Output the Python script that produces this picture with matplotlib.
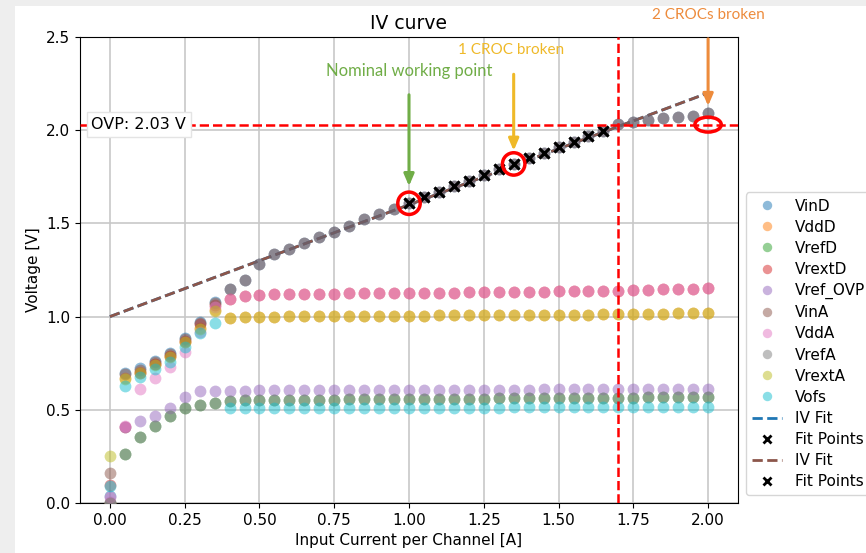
import matplotlib
import matplotlib.pyplot as plt
from matplotlib.patches import Ellipse, Rectangle

matplotlib.use("Agg")

# input current per channel [A]
current = [0.00, 0.05, 0.10, 0.15, 0.20, 0.25, 0.30, 0.35, 0.40, 0.45,
           0.50, 0.55, 0.60, 0.65, 0.70, 0.75, 0.80, 0.85, 0.90, 0.95,
           1.00, 1.05, 1.10, 1.15, 1.20, 1.25, 1.30, 1.35, 1.40, 1.45,
           1.50, 1.55, 1.60, 1.65, 1.70, 1.75, 1.80, 1.85, 1.90, 1.95,
           2.00]

# low current part (0.00 - 0.35 A)
vind_low = [0.040, 0.696, 0.722, 0.764, 0.806, 0.883, 0.973, 1.080]
vddd_low = [0.000, 0.669, 0.704, 0.746, 0.789, 0.866, 0.937, 1.035]
vrefd_low = [0.000, 0.263, 0.352, 0.413, 0.468, 0.508, 0.526, 0.538]
vrextd_low = [0.097, 0.410, 0.700, 0.745, 0.790, 0.870, 0.960, 1.062]
vref_ovp_low = [0.007, 0.410, 0.440, 0.467, 0.508, 0.567, 0.603, 0.603]
vina_low = [0.160, 0.690, 0.716, 0.758, 0.800, 0.878, 0.968, 1.075]
vdda_low = [0.030, 0.415, 0.610, 0.669, 0.728, 0.812, 0.920, 1.050]
vrefa_low = [0.000, 0.263, 0.352, 0.413, 0.468, 0.508, 0.526, 0.538]
vrexta_low = [0.252, 0.664, 0.700, 0.742, 0.785, 0.862, 0.934, 1.030]
vofs_low = [0.090, 0.628, 0.674, 0.717, 0.758, 0.839, 0.910, 0.967]

# high current part (0.40 - 2.00 A)
vin_high = [1.146, 1.196, 1.282, 1.336, 1.361, 1.393, 1.429, 1.456, 1.486, 1.522,
            1.549, 1.575, 1.608, 1.640, 1.670, 1.700, 1.729, 1.760, 1.790, 1.819,
            1.849, 1.879, 1.908, 1.938, 1.969, 1.997, 2.033, 2.046, 2.055, 2.064,
            2.069, 2.076, 2.090]
vdd_high = [0.990, 0.998, 1.000, 1.000, 1.001, 1.001, 1.002, 1.002, 1.003, 1.003,
            1.004, 1.004, 1.005, 1.005, 1.006, 1.006, 1.007, 1.007, 1.008, 1.008,
            1.009, 1.009, 1.010, 1.010, 1.011, 1.012, 1.013, 1.014, 1.015, 1.016,
            1.017, 1.018, 1.019]
vrext_high = [1.093, 1.108, 1.118, 1.120, 1.121, 1.122, 1.122, 1.123, 1.124, 1.125,
              1.125, 1.126, 1.127, 1.128, 1.128, 1.129, 1.130, 1.131, 1.131, 1.132,
              1.133, 1.134, 1.135, 1.136, 1.137, 1.138, 1.140, 1.142, 1.144, 1.146,
              1.148, 1.150, 1.152]
vref_ovp_high = [0.603, 0.603, 0.604, 0.604, 0.604, 0.605, 0.605, 0.605, 0.605, 0.606,
                 0.606, 0.606, 0.606, 0.607, 0.607, 0.607, 0.607, 0.608, 0.608, 0.608,
                 0.608, 0.609, 0.609, 0.609, 0.609, 0.610, 0.610, 0.610, 0.611, 0.611,
                 0.611, 0.612, 0.612]
vref_high = [0.548, 0.551, 0.553, 0.553, 0.554, 0.554, 0.555, 0.555, 0.556, 0.556,
             0.557, 0.557, 0.558, 0.558, 0.559, 0.559, 0.560, 0.560, 0.561, 0.561,
             0.562, 0.562, 0.563, 0.563, 0.564, 0.564, 0.565, 0.565, 0.566, 0.566,
             0.567, 0.567, 0.568]
vofs_high = [0.508, 0.508, 0.508, 0.509, 0.509, 0.509, 0.509, 0.510, 0.510, 0.510,
             0.510, 0.511, 0.511, 0.511, 0.511, 0.512, 0.512, 0.512, 0.512, 0.513,
             0.513, 0.513, 0.513, 0.514, 0.514, 0.514, 0.515, 0.515, 0.515, 0.516,
             0.516, 0.516, 0.517]

series = [
    ("VinD", vind_low + vin_high),
    ("VddD", vddd_low + vdd_high),
    ("VrefD", vrefd_low + vref_high),
    ("VrextD", vrextd_low + vrext_high),
    ("Vref_OVP", vref_ovp_low + vref_ovp_high),
    ("VinA", vina_low + vin_high),
    ("VddA", vdda_low + vrext_high),
    ("VrefA", vrefa_low + vref_high),
    ("VrextA", vrexta_low + vdd_high),
    ("Vofs", vofs_low + vofs_high),
]

# linear IV fit (intercept 1.0 V, slope 0.6 V/A) and the points used for it
fit_x = [0.0, 2.0]
fit_y = [1.0, 2.2]
fit_start, fit_stop = 20, 34

ovp_voltage = 2.03
ovp_current = 1.70

# marked working points
nominal_point = (1.00, 1.608)
one_broken_point = (1.35, 1.819)
two_broken_point = (2.00, 2.03)

GREEN = "#70ad47"
GOLD = "#efb928"
ORANGE = "#ed8b3c"
ANNOT_FONT = ["Lato", "DejaVu Sans"]


def draw_data(ax):
    for name, values in series:
        ax.plot(current, values, "o", ms=8.5, alpha=0.5, mew=0, label=name, zorder=3)

    fx = current[fit_start:fit_stop]
    fy = series[0][1][fit_start:fit_stop]
    ax.plot(fit_x, fit_y, "--", color="C0", lw=2, label="IV Fit", zorder=2)
    ax.plot(fx, fy, "x", color="black", ms=7, mew=2, label="Fit Points", zorder=5)
    ax.plot(fit_x, fit_y, "--", color="C5", lw=2, label="IV Fit", zorder=2.5)
    ax.plot(fx, fy, "x", color="black", ms=7, mew=2, label="Fit Points", zorder=5)


def draw_annotations(ax):
    ax.axhline(ovp_voltage, color="red", ls="--", lw=1.8, zorder=6)
    ax.axvline(ovp_current, color="red", ls="--", lw=1.8, zorder=6)
    ax.text(-0.062, ovp_voltage, "OVP: 2.03 V", fontsize=11.5, va="center", ha="left",
            zorder=7, bbox=dict(boxstyle="square,pad=0.3", fc="white", ec="#e4e4e4"))

    for (cx, cy), w, h in [(nominal_point, 0.075, 0.12),
                           (one_broken_point, 0.075, 0.12),
                           (two_broken_point, 0.088, 0.08)]:
        ax.add_patch(Ellipse((cx, cy), w, h, fill=False, ec="red", lw=2.5, zorder=8))

    arrows = [
        (nominal_point[0], 2.19, 1.70, GREEN),
        (one_broken_point[0], 2.30, 1.89, GOLD),
        (two_broken_point[0], 2.49, 2.13, ORANGE),
    ]
    for x, y0, y1, color in arrows:
        ax.annotate("", xy=(x, y1), xytext=(x, y0), annotation_clip=False, zorder=9,
                    arrowprops=dict(arrowstyle="-|>,head_length=0.7,head_width=0.3",
                                    color=color, lw=2.2, shrinkA=0, shrinkB=0))
    ax.text(1.00, 2.32, "Nominal working point", color=GREEN, fontsize=12,
            ha="center", va="center", family=ANNOT_FONT)
    ax.text(1.34, 2.43, "1 CROC broken", color=GOLD, fontsize=11,
            ha="center", va="center", family=ANNOT_FONT)
    ax.text(2.00, 2.62, "2 CROCs broken", color=ORANGE, fontsize=11,
            ha="center", va="center", family=ANNOT_FONT, clip_on=False)


def graph_builder():
    fig = plt.figure(figsize=(8.66, 5.53), dpi=100, facecolor="#eeeeee")
    fig.patches.append(Rectangle((15 / 866, 0), 1, 1 - 6 / 553, transform=fig.transFigure,
                                 fc="white", ec="none", zorder=-10))
    ax = fig.add_axes([80 / 866, 50 / 553, 658 / 866, 466 / 553])

    draw_data(ax)
    draw_annotations(ax)

    ax.set_xlim(-0.1, 2.1)
    ax.set_ylim(0, 2.5)
    ax.set_xticks([0, 0.25, 0.5, 0.75, 1.0, 1.25, 1.5, 1.75, 2.0])
    ax.set_xticklabels(["0.00", "0.25", "0.50", "0.75", "1.00", "1.25", "1.50", "1.75", "2.00"])
    ax.set_yticks([0, 0.5, 1.0, 1.5, 2.0, 2.5])
    ax.tick_params(labelsize=11)
    ax.grid(True, color="#c8c8c8", lw=1.2, zorder=0)
    ax.set_axisbelow(True)

    ax.set_title("IV curve", fontsize=13.5)
    ax.set_xlabel("Input Current per Channel [A]", fontsize=11)
    ax.set_ylabel("Voltage [V]", fontsize=11)

    ax.legend(loc="lower left", bbox_to_anchor=(1.0, 0.0), fontsize=11,
              labelspacing=0.4, markerscale=0.8, handlelength=2.0)

    fig.savefig("out.png", dpi=100, facecolor=fig.get_facecolor())
    plt.close(fig)


graph_builder()
